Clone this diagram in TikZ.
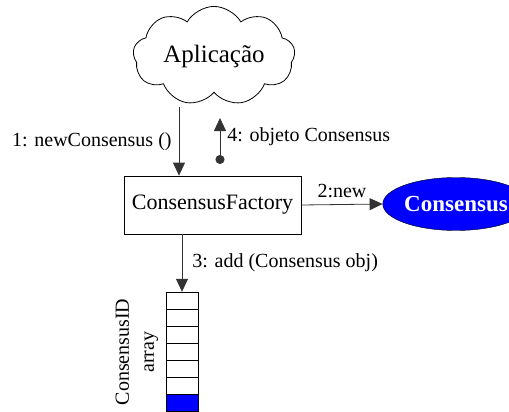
\documentclass[tikz,border=0pt]{standalone}
\usepackage{fontspec}
\setmainfont{Liberation Serif}
\usetikzlibrary{arrows.meta,shapes.symbols,shapes.geometric}

\tikzset{
	msg/.style={draw=black!80, line width=0.8pt, -{Triangle[length=13pt, width=12pt]}},
	lbl/.style={font=\fontsize{20}{22}\selectfont, inner sep=0pt},
	cell/.style={draw, line width=0.8pt}
}

\begin{document}
\begin{tikzpicture}[x=1pt, y=-1pt]
\useasboundingbox (0,0) rectangle (509,412);

\node[cloud, draw, line width=0.8pt, cloud puffs=9, cloud puff arc=120, aspect=1.9,
	minimum width=162pt, minimum height=86pt, inner sep=0pt,
	font=\fontsize{25}{27}\selectfont] (aplic) at (214,56) {Aplicação};

\node[draw, line width=0.8pt, minimum width=177pt, minimum height=58pt, inner sep=0pt,
	font=\fontsize{22}{24}\selectfont] (fac) at (212.5,205) {ConsensusFactory};

\node[ellipse, draw, fill=blue, minimum width=112pt, minimum height=53pt, inner sep=0pt,
	text=white, font=\fontsize{23}{25}\selectfont\bfseries] (cons) at (456,204) {Consensus};

% Chamadas
\coordinate (c1) at (179,107);
\coordinate (c4) at (220,164);
\coordinate (t4) at (220,118);

	\draw[msg] (c1) -- (c1 |- fac.north) node[lbl, pos=0.5, anchor=east, xshift=-7pt] {1: newConsensus ()};
	\draw[msg, {Circle[length=9pt]}-{Triangle[length=13pt, width=12pt]}] (c4) -- (t4)
		node[lbl, pos=0.6, anchor=west, xshift=7pt] {4: objeto Consensus};
	\draw[msg] (fac.east) -- (cons.west) node[lbl, midway, above=6pt] {2:new};

% Array
\node[minimum width=32pt, minimum height=120pt, inner sep=0pt] (arr) at (182,352) {};
	\fill[blue] (166,395) rectangle (198,412);
	\foreach \y in {292, 309, ..., 395}
		\draw[cell] (166,\y) rectangle (198,\y+17);

	\draw[msg] (arr.north |- fac.south) -- (arr.north) node[lbl, midway, anchor=west, xshift=10pt] {3: add (Consensus obj)};

\node[lbl, rotate=90, align=center, font=\fontsize{20}{25}\selectfont] (arrlbl) at (137,352) {ConsensusID\\array};
\end{tikzpicture}
\end{document}
